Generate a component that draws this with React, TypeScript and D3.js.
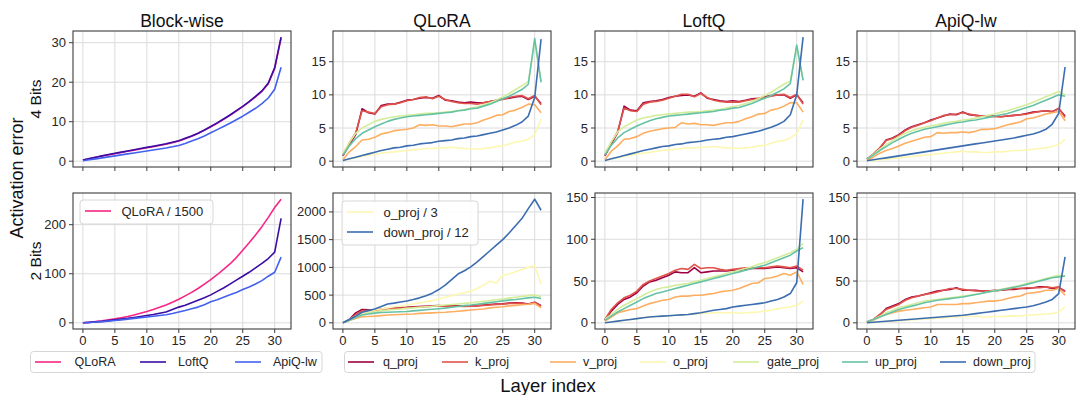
import React from "react";
import * as d3 from "d3";

const W = 1081;
const H = 395;
const font = "'Liberation Sans', Arial, sans-serif";

const layers = d3.range(32);
const xTicks = [0, 5, 10, 15, 20, 25, 30];

const titles = ["Block-wise", "QLoRA", "LoftQ", "ApiQ-lw"];
const rowLabels = ["4 Bits", "2 Bits"];

const methodNames = ["QLoRA", "LoftQ", "ApiQ-lw"];
const methodColors = ["#f72585", "#3a0ca3", "#4361ee"];

const projNames = ["q_proj", "k_proj", "v_proj", "o_proj", "gate_proj", "up_proj", "down_proj"];
const projColors = ["#9e0142", "#e0534a", "#fdae61", "#fdf7b2", "#d4ed9a", "#66c2a5", "#3b6db0"];

// block-wise, 4 bits
const block4_qlora = [0.3, 0.6, 1.0, 1.3, 1.6, 1.9, 2.2, 2.5, 2.8, 3.1, 3.4, 3.7, 4.0, 4.3, 4.7, 5.1, 5.7, 6.3, 7.0, 7.8, 8.7, 9.6, 10.6, 11.6, 12.7, 13.8, 15.0, 16.3, 17.7, 19.6, 23.5, 31.2];
const block4_loftq = [0.3, 0.65, 1.0, 1.35, 1.7, 2.0, 2.3, 2.6, 2.9, 3.2, 3.5, 3.8, 4.1, 4.4, 4.8, 5.2, 5.8, 6.4, 7.1, 7.9, 8.8, 9.7, 10.7, 11.7, 12.8, 13.9, 15.1, 16.4, 17.8, 19.8, 23.7, 31.4];
const block4_apiq = [0.1, 0.35, 0.6, 0.85, 1.1, 1.35, 1.6, 1.85, 2.1, 2.35, 2.6, 2.85, 3.1, 3.35, 3.65, 4.0, 4.5, 5.1, 5.7, 6.4, 7.2, 8.0, 8.8, 9.6, 10.5, 11.4, 12.4, 13.4, 14.6, 16.0, 18.2, 23.8];

// block-wise, 2 bits (QLoRA divided by 1500)
const block2_qlora = [0, 1, 2.5, 4, 6, 8, 10.5, 13, 16, 19.5, 23, 27, 31.5, 36.5, 42, 48, 55, 62, 70, 79, 88, 98, 109, 120, 133, 148, 163, 179, 196, 215, 235, 252];
const block2_loftq = [0, 1, 2, 3, 4.5, 6, 7.5, 9, 11, 13, 15, 17, 19.5, 22, 27, 32, 36, 41, 46, 51, 57, 64, 71, 79, 87, 95, 103, 112, 121, 131, 144, 213];
const block2_apiq = [0, 0.8, 1.6, 2.5, 3.5, 4.7, 6, 7.5, 9, 10.5, 12, 13.5, 15, 16.5, 19, 22, 25, 28.5, 32, 37, 43, 47, 52, 57, 62, 68, 73, 79, 86, 95, 103, 134];

// QLoRA, 4 bits
const qlora4 = {
  q: [0.8, 2.5, 4.0, 7.9, 7.3, 7.1, 8.4, 8.6, 8.6, 8.9, 9.2, 9.3, 9.5, 9.6, 9.5, 9.9, 9.2, 9.1, 8.9, 8.8, 8.9, 8.8, 8.8, 9.0, 9.2, 9.4, 9.5, 9.7, 9.8, 9.3, 9.8, 8.7],
  k: [0.9, 2.7, 4.3, 7.6, 7.4, 7.2, 8.2, 8.5, 8.6, 8.8, 9.1, 9.3, 9.6, 9.7, 9.4, 9.8, 9.3, 9.0, 8.8, 8.7, 8.7, 8.6, 8.8, 9.0, 9.1, 9.3, 9.6, 9.8, 9.9, 9.4, 9.9, 8.5],
  v: [0.2, 1.4, 2.2, 3.2, 3.3, 3.6, 4.1, 4.3, 4.6, 4.7, 4.8, 5.0, 5.5, 5.4, 5.5, 5.3, 5.3, 5.2, 5.4, 5.6, 5.6, 5.8, 6.2, 6.5, 6.9, 7.0, 7.5, 7.7, 8.1, 8.6, 8.5, 7.3],
  o: [0.1, 0.3, 0.5, 0.7, 0.9, 1.0, 1.2, 1.3, 1.4, 1.5, 1.6, 1.7, 1.8, 1.9, 1.9, 2.0, 2.0, 2.1, 2.0, 1.9, 1.9, 1.8, 1.9, 2.0, 2.2, 2.3, 2.6, 2.9, 3.0, 3.3, 4.0, 6.3],
  gate: [1.2, 2.8, 4.2, 5.0, 5.5, 6.0, 6.3, 6.5, 6.7, 6.8, 6.9, 7.0, 7.1, 7.2, 7.2, 7.3, 7.4, 7.5, 7.6, 7.8, 8.0, 8.2, 8.5, 8.8, 9.2, 9.7, 10.2, 10.8, 11.4, 12.0, 18.0, 12.0],
  up: [0.9, 2.3, 3.4, 4.2, 4.7, 5.2, 5.6, 6.0, 6.3, 6.5, 6.7, 6.8, 6.9, 7.0, 7.1, 7.2, 7.3, 7.4, 7.6, 7.7, 7.9, 8.0, 8.3, 8.6, 9.0, 9.4, 9.8, 10.3, 10.8, 11.6, 18.5, 11.9],
  down: [0.1, 0.35, 0.6, 0.85, 1.1, 1.35, 1.6, 1.8, 2.0, 2.1, 2.3, 2.4, 2.6, 2.7, 2.8, 3.0, 3.1, 3.2, 3.4, 3.5, 3.7, 3.8, 4.0, 4.2, 4.4, 4.7, 5.0, 5.4, 5.9, 6.8, 9.6, 18.4],
};

// LoftQ, 4 bits
const loftq4 = {
  q: [0.8, 2.6, 4.3, 8.3, 7.7, 7.6, 8.8, 9.0, 9.1, 9.3, 9.6, 9.8, 9.9, 10.0, 9.8, 10.3, 9.5, 9.3, 9.1, 9.0, 9.1, 9.0, 9.2, 9.4, 9.5, 9.7, 9.9, 10.0, 10.0, 9.5, 10.0, 8.8],
  k: [0.9, 2.8, 4.5, 8.0, 7.6, 7.5, 8.6, 8.9, 9.0, 9.2, 9.5, 9.8, 10.1, 10.1, 9.7, 10.2, 9.6, 9.2, 9.0, 8.9, 8.9, 8.9, 9.1, 9.3, 9.4, 9.6, 9.8, 10.0, 10.1, 9.6, 10.1, 8.6],
  v: [0.2, 1.5, 2.3, 3.3, 3.4, 3.7, 4.2, 4.5, 4.7, 4.9, 5.0, 5.1, 5.8, 5.6, 5.7, 5.5, 5.5, 5.4, 5.6, 5.8, 5.8, 6.0, 6.4, 6.7, 7.1, 7.2, 7.7, 7.9, 8.3, 8.8, 8.8, 7.4],
  o: [0.1, 0.3, 0.5, 0.7, 0.9, 1.1, 1.2, 1.3, 1.5, 1.6, 1.7, 1.8, 1.9, 2.0, 2.0, 2.1, 2.1, 2.2, 2.1, 2.0, 2.0, 1.9, 2.0, 2.1, 2.3, 2.4, 2.7, 3.0, 3.1, 3.5, 4.2, 6.2],
  gate: [1.2, 2.9, 4.4, 5.2, 5.7, 6.2, 6.5, 6.7, 6.9, 7.0, 7.1, 7.2, 7.3, 7.4, 7.4, 7.5, 7.6, 7.7, 7.8, 8.0, 8.2, 8.4, 8.7, 9.0, 9.4, 9.9, 10.4, 11.0, 11.6, 12.1, 17.3, 12.3],
  up: [0.9, 2.4, 3.5, 4.3, 4.8, 5.3, 5.7, 6.1, 6.4, 6.6, 6.8, 6.9, 7.0, 7.1, 7.2, 7.3, 7.4, 7.5, 7.7, 7.8, 8.0, 8.1, 8.4, 8.7, 9.1, 9.5, 9.9, 10.4, 10.9, 11.7, 17.5, 12.2],
  down: [0.1, 0.35, 0.6, 0.85, 1.1, 1.35, 1.6, 1.8, 2.0, 2.2, 2.3, 2.5, 2.6, 2.8, 2.9, 3.0, 3.2, 3.3, 3.4, 3.6, 3.7, 3.9, 4.1, 4.3, 4.5, 4.8, 5.1, 5.5, 6.0, 7.0, 10.0, 18.7],
};

// ApiQ-lw, 4 bits
const apiq4 = {
  q: [0.3, 1.0, 1.9, 3.2, 3.5, 4.0, 4.7, 5.2, 5.5, 5.8, 6.2, 6.5, 6.8, 7.1, 7.0, 7.4, 7.0, 6.9, 6.8, 6.8, 6.8, 6.7, 6.8, 6.9, 7.0, 7.2, 7.4, 7.5, 7.6, 7.5, 7.9, 6.8],
  k: [0.3, 1.1, 2.0, 3.1, 3.4, 3.9, 4.6, 5.1, 5.4, 5.8, 6.1, 6.5, 6.9, 7.0, 7.1, 7.3, 7.1, 6.9, 6.8, 6.7, 6.7, 6.7, 6.8, 6.9, 7.0, 7.1, 7.3, 7.5, 7.6, 7.4, 8.0, 6.6],
  v: [0.1, 0.6, 1.2, 1.6, 1.9, 2.3, 2.7, 3.0, 3.3, 3.6, 3.7, 4.3, 4.2, 4.3, 4.3, 4.4, 4.3, 4.5, 4.8, 4.8, 4.9, 5.2, 5.5, 5.7, 5.9, 6.4, 6.5, 6.8, 7.1, 7.3, 7.5, 6.1],
  o: [0.05, 0.1, 0.2, 0.3, 0.4, 0.5, 0.6, 0.7, 0.8, 0.9, 1.0, 1.1, 1.2, 1.3, 1.4, 1.5, 1.4, 1.4, 1.3, 1.3, 1.4, 1.4, 1.5, 1.6, 1.6, 1.7, 1.8, 1.9, 2.0, 2.2, 2.5, 3.3],
  gate: [0.3, 1.0, 1.8, 2.5, 3.1, 3.7, 4.2, 4.6, 4.9, 5.1, 5.3, 5.5, 5.7, 5.9, 6.0, 6.2, 6.3, 6.5, 6.7, 6.9, 7.1, 7.4, 7.6, 7.9, 8.2, 8.5, 8.9, 9.3, 9.7, 10.1, 10.5, 10.0],
  up: [0.3, 0.9, 1.6, 2.2, 2.8, 3.3, 3.8, 4.2, 4.5, 4.8, 5.0, 5.2, 5.4, 5.6, 5.8, 5.9, 6.1, 6.2, 6.4, 6.6, 6.8, 7.0, 7.2, 7.5, 7.8, 8.1, 8.4, 8.8, 9.2, 9.6, 10.0, 9.8],
  down: [0.05, 0.2, 0.35, 0.5, 0.65, 0.8, 0.95, 1.1, 1.25, 1.4, 1.55, 1.7, 1.85, 2.0, 2.15, 2.3, 2.45, 2.6, 2.75, 2.9, 3.05, 3.2, 3.35, 3.5, 3.7, 3.9, 4.1, 4.4, 4.8, 5.6, 7.2, 14.2],
};

// QLoRA, 2 bits (o_proj / 3, down_proj / 12)
const qlora2 = {
  q: [0, 60, 180, 240, 235, 225, 250, 260, 265, 275, 280, 290, 295, 300, 305, 310, 300, 310, 305, 300, 305, 310, 320, 330, 340, 345, 355, 360, 355, 340, 370, 310],
  k: [0, 50, 150, 215, 225, 220, 240, 250, 258, 265, 272, 280, 288, 292, 298, 302, 296, 302, 298, 295, 300, 305, 314, 322, 332, 338, 348, 352, 350, 335, 362, 300],
  v: [0, 40, 80, 110, 115, 120, 130, 140, 145, 150, 155, 160, 170, 175, 180, 185, 190, 200, 210, 220, 230, 240, 250, 270, 280, 290, 305, 315, 325, 335, 350, 270],
  o: [0, 60, 120, 170, 200, 230, 250, 270, 290, 300, 320, 340, 360, 380, 400, 430, 460, 490, 520, 540, 570, 620, 680, 750, 720, 860, 880, 920, 960, 1000, 1030, 700],
  gate: [0, 50, 100, 150, 180, 200, 215, 230, 240, 250, 260, 270, 280, 290, 300, 310, 320, 330, 340, 350, 360, 375, 390, 400, 415, 430, 445, 460, 475, 490, 500, 470],
  up: [0, 45, 95, 140, 160, 175, 185, 190, 195, 200, 205, 215, 225, 235, 245, 255, 265, 280, 295, 310, 320, 335, 350, 365, 380, 395, 410, 420, 435, 450, 460, 440],
  down: [0, 60, 120, 190, 220, 250, 295, 340, 355, 375, 395, 420, 450, 490, 535, 600, 680, 780, 880, 940, 1010, 1100, 1200, 1300, 1400, 1500, 1620, 1750, 1880, 2060, 2230, 2030],
};

// LoftQ, 2 bits
const loftq2 = {
  q: [3, 14, 22, 28, 31, 36, 44, 49, 51, 54, 57, 61, 60, 60, 66, 60, 61, 62, 62, 62, 63, 63, 64, 65, 65, 65, 66, 67, 66, 65, 66, 61],
  k: [4, 16, 24, 30, 33, 38, 46, 50, 53, 56, 59, 63, 65, 64, 70, 65, 66, 66, 64, 63, 64, 65, 66, 66, 66, 66, 67, 68, 67, 66, 68, 63],
  v: [2, 7, 12, 14, 16, 17, 20, 23, 25, 27, 28, 31, 32, 32, 33, 33, 34, 35, 37, 38, 39, 41, 44, 47, 48, 53, 54, 56, 59, 57, 61, 46],
  o: [0, 1, 2, 3, 4, 5, 6, 7, 7.5, 8, 8.5, 9, 9.5, 10, 10.5, 11, 11.5, 12, 12, 12, 12, 11.5, 12, 12.5, 13, 14, 15, 17, 18, 19, 21, 26],
  gate: [4, 10, 16, 21, 25, 29, 33, 37, 40, 42, 43, 45, 46, 47, 49, 51, 53, 55, 57, 59, 61, 63, 65, 67, 70, 72, 75, 78, 81, 84, 88, 95],
  up: [3, 8, 13, 17, 21, 25, 29, 32, 35, 37, 39, 41, 43, 45, 47, 49, 51, 53, 55, 57, 59, 61, 63, 65, 67, 69, 72, 75, 78, 81, 86, 90],
  down: [0, 1, 2, 3, 4, 5, 6, 7, 7.5, 8, 8.5, 9, 9.5, 10, 11, 12, 13.5, 15, 16, 17, 19, 20, 21, 22, 23, 24, 26, 28, 31, 35, 48, 148],
};

// ApiQ-lw, 2 bits
const apiq2 = {
  q: [1, 4, 9, 17, 20, 23, 28, 31, 32, 34, 36, 38, 39, 40, 42, 39, 39, 39, 38, 38, 39, 39, 40, 40, 41, 41, 42, 43, 43, 41, 42, 38],
  k: [1, 4, 10, 16, 19, 22, 27, 30, 32, 34, 35, 37, 39, 41, 41, 40, 39, 38, 38, 38, 38, 39, 40, 41, 41, 42, 42, 42, 43, 42, 43, 37],
  v: [0.5, 3, 7, 10, 12, 14, 15, 16, 17, 18, 19, 22, 22, 22, 22, 23, 23, 24, 25, 26, 26, 27, 29, 31, 32, 35, 36, 37, 39, 39, 41, 33],
  o: [0, 0.5, 1, 1.5, 2, 2.5, 3, 3.5, 4, 4.5, 5, 5.5, 6, 6.5, 7, 7.5, 7.5, 7.5, 7, 7, 7.5, 7.5, 8, 8, 8.5, 9, 9.5, 10, 10.5, 11, 13, 19],
  gate: [1, 4, 8, 12, 15, 18, 20, 22, 24, 26, 27, 28, 29, 30, 31, 32, 33, 34, 35.5, 37, 38.5, 40, 41.5, 43, 45, 47, 49, 51, 53, 55, 57, 56],
  up: [1, 4, 7, 10, 13, 16, 18, 20, 22, 24, 25.5, 27, 28, 29, 30, 31, 32.5, 34, 35.5, 37, 38, 39.5, 41, 42.5, 44, 46, 48, 50, 52, 54, 55, 56],
  down: [0, 0.6, 1.2, 1.8, 2.4, 3, 3.6, 4.2, 4.8, 5.4, 6, 6.6, 7.2, 7.8, 8.4, 9, 10, 11, 12, 13, 14, 15, 16, 17, 18, 19, 20.5, 22.5, 25, 28, 35, 79],
};

type Series = { name: string; color: string; values: number[] };

const blockSeries = (a: number[], b: number[], c: number[]): Series[] =>
  [a, b, c].map((values, i) => ({ name: methodNames[i], color: methodColors[i], values }));

const projSeries = (p: Record<string, number[]>): Series[] =>
  ["q", "k", "v", "o", "gate", "up", "down"].map((key, i) => ({ name: projNames[i], color: projColors[i], values: p[key] }));

const colX = [73, 333, 595, 857];
const rowY = [31, 193];
const pw = 218;
const ph = 136;

const padDomain = (groups: Series[][]): [number, number] => {
  const all = groups.flatMap((g) => g.flatMap((s) => s.values));
  const [lo, hi] = d3.extent(all) as [number, number];
  const m = (hi - lo) * 0.05;
  return [lo - m, hi + m];
};

const panels = [
  [blockSeries(block4_qlora, block4_loftq, block4_apiq), projSeries(qlora4), projSeries(loftq4), projSeries(apiq4)],
  [blockSeries(block2_qlora, block2_loftq, block2_apiq), projSeries(qlora2), projSeries(loftq2), projSeries(apiq2)],
];

const row1Shared = padDomain([panels[0][1], panels[0][2], panels[0][3]]);
const row2Shared = padDomain([panels[1][2], panels[1][3]]);
const domains: [number, number][][] = [
  [padDomain([panels[0][0]]), row1Shared, row1Shared, row1Shared],
  [padDomain([panels[1][0]]), padDomain([panels[1][1]]), row2Shared, row2Shared],
];
const yTicks = [
  [[0, 10, 20, 30], [0, 5, 10, 15], [0, 5, 10, 15], [0, 5, 10, 15]],
  [[0, 100, 200], [0, 500, 1000, 1500, 2000], [0, 50, 100, 150], [0, 50, 100, 150]],
];

const xScale = (c: number) =>
  d3.scaleLinear().domain([-1.55, 32.55]).range([colX[c], colX[c] + pw]);

const tickColor = "#262626";
const gridColor = "#dcdcdc";
const spineColor = "#3c3c3c";

function Panel({ r, c }: { r: number; c: number }) {
  const x = xScale(c);
  const y = d3.scaleLinear().domain(domains[r][c]).range([rowY[r] + ph, rowY[r]]);
  const series = panels[r][c];
  const line = d3.line<number>().x((_, i) => x(layers[i])).y((d) => y(d));
  const clipId = `clip-${r}-${c}`;
  return (
    <g>
      <clipPath id={clipId}>
        <rect x={colX[c]} y={rowY[r]} width={pw} height={ph} />
      </clipPath>
      {xTicks.map((t) => (
        <line key={"gx" + t} x1={x(t)} x2={x(t)} y1={rowY[r]} y2={rowY[r] + ph} stroke={gridColor} strokeWidth={1} />
      ))}
      {yTicks[r][c].map((t) => (
        <line key={"gy" + t} x1={colX[c]} x2={colX[c] + pw} y1={y(t)} y2={y(t)} stroke={gridColor} strokeWidth={1} />
      ))}
      <g clipPath={`url(#${clipId})`}>
        {series.map((s) => (
          <path key={s.name} d={line(s.values) || ""} fill="none" stroke={s.color} strokeWidth={1.6} strokeLinejoin="round" />
        ))}
      </g>
      <rect x={colX[c]} y={rowY[r]} width={pw} height={ph} fill="none" stroke={spineColor} strokeWidth={1.1} />
      {xTicks.map((t) => (
        <g key={"tx" + t}>
          <line x1={x(t)} x2={x(t)} y1={rowY[r] + ph} y2={rowY[r] + ph + 4} stroke={spineColor} strokeWidth={1} />
          {r === 1 && (
            <text x={x(t)} y={rowY[r] + ph + 16} textAnchor="middle" fontSize={13} fill={tickColor}>
              {t}
            </text>
          )}
        </g>
      ))}
      {yTicks[r][c].map((t) => (
        <g key={"ty" + t}>
          <line x1={colX[c] - 4} x2={colX[c]} y1={y(t)} y2={y(t)} stroke={spineColor} strokeWidth={1} />
          <text x={colX[c] - 7} y={y(t)} dy="0.35em" textAnchor="end" fontSize={13} fill={tickColor}>
            {t}
          </text>
        </g>
      ))}
      {r === 0 && (
        <text x={colX[c] + pw / 2} y={26.5} textAnchor="middle" fontSize={17.5} fill="#111">
          {titles[c]}
        </text>
      )}
    </g>
  );
}

function InnerLegend({ x0, y0, w, items }: { x0: number; y0: number; w: number; items: { label: string; color: string }[] }) {
  const rowH = 20;
  return (
    <g>
      <rect x={x0} y={y0} width={w} height={items.length * rowH + 4} rx={3} fill="white" fillOpacity={0.85} stroke="#d6d6d6" />
      {items.map((it, i) => (
        <g key={it.label}>
          <line x1={x0 + 5} x2={x0 + 31} y1={y0 + 11 + i * rowH} y2={y0 + 11 + i * rowH} stroke={it.color} strokeWidth={1.6} />
          <text x={x0 + 41.5} y={y0 + 11 + i * rowH} dy="0.35em" fontSize={13} fill={tickColor}>
            {it.label}
          </text>
        </g>
      ))}
    </g>
  );
}

function BottomLegend({ x0, x1, items, lineStarts, textStarts }: { x0: number; x1: number; items: { label: string; color: string }[]; lineStarts: number[]; textStarts: number[] }) {
  const yc = 362;
  return (
    <g>
      <rect x={x0} y={351.5} width={x1 - x0} height={21} rx={3} fill="white" stroke="#d6d6d6" />
      {items.map((it, i) => (
        <g key={it.label}>
          <line x1={lineStarts[i]} x2={lineStarts[i] + 26} y1={yc} y2={yc} stroke={it.color} strokeWidth={1.6} />
          <text x={textStarts[i]} y={yc} dy="0.35em" fontSize={12.5} fill={tickColor}>
            {it.label}
          </text>
        </g>
      ))}
    </g>
  );
}

export default function App() {
  return (
    <svg width={W} height={H} style={{ position: "absolute", left: 0, top: 0, background: "white", fontFamily: font }}>
      {[0, 1].map((r) => [0, 1, 2, 3].map((c) => <Panel key={`${r}-${c}`} r={r} c={c} />))}
      <InnerLegend x0={80} y0={200} w={133} items={[{ label: "QLoRA / 1500", color: methodColors[0] }]} />
      <InnerLegend
        x0={342}
        y0={201}
        w={136}
        items={[
          { label: "o_proj / 3", color: projColors[3] },
          { label: "down_proj / 12", color: projColors[6] },
        ]}
      />
      {rowLabels.map((lab, r) => (
        <text key={lab} transform={`translate(41,${rowY[r] + ph / 2}) rotate(-90)`} textAnchor="middle" fontSize={15.5} fill="#111">
          {lab}
        </text>
      ))}
      <text transform={`translate(23,178) rotate(-90)`} textAnchor="middle" fontSize={18} fill="#111">
        Activation error
      </text>
      <text x={548} y={392} textAnchor="middle" fontSize={18.5} fill="#111">
        Layer index
      </text>
      <BottomLegend
        x0={30.5}
        x1={322}
        items={methodNames.map((n, i) => ({ label: n, color: methodColors[i] }))}
        lineStarts={[35, 140, 235]}
        textStarts={[74.5, 178, 273]}
      />
      <BottomLegend
        x0={344.5}
        x1={1035}
        items={projNames.map((n, i) => ({ label: n, color: projColors[i] }))}
        lineStarts={[348, 442, 550, 640, 733, 842, 940]}
        textStarts={[383, 475, 583, 673, 767, 875, 973]}
      />
    </svg>
  );
}
